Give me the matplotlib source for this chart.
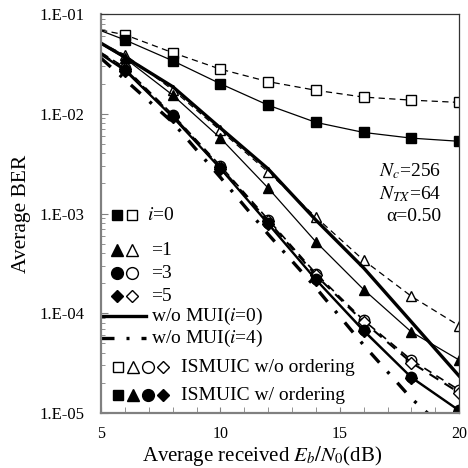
import numpy as np
import matplotlib
matplotlib.use('Agg')
import matplotlib.pyplot as plt
from matplotlib.ticker import FixedLocator, FuncFormatter, LogLocator, NullFormatter

plt.rcParams['font.family'] = ['Liberation Serif', 'DejaVu Serif']
plt.rcParams['mathtext.fontset'] = 'stix'

# Eb/N0 (dB); first point only carries the line to the left edge (no marker)
snr = [5, 6, 8, 10, 12, 14, 16, 18, 20]

# ISMUIC w/o ordering (open markers, dashed)
sq_open = [0.069, 0.062, 0.041, 0.028, 0.021, 0.0172, 0.0147, 0.0137, 0.013]
tri_open = [0.051, 0.039, 0.0174, 0.0068, 0.0026, 9.2e-4, 3.4e-4, 1.48e-4, 7.5e-5]
circ_open = [0.041, 0.029, 0.0098, 0.0030, 8.7e-4, 2.5e-4, 8.5e-5, 3.4e-5, 1.7e-5]
dia_open = [0.040, 0.028, 0.0096, 0.0029, 8.4e-4, 2.4e-4, 8.2e-5, 3.2e-5, 1.6e-5]

# ISMUIC w/ ordering (filled markers, solid)
sq_fill = [0.068, 0.055, 0.034, 0.020, 0.0122, 0.0082, 0.0065, 0.0057, 0.0053]
tri_fill = [0.050, 0.036, 0.0154, 0.0057, 0.0018, 5.2e-4, 1.73e-4, 6.5e-5, 3.4e-5]
circ_fill = [0.040, 0.0275, 0.0094, 0.00285, 8.0e-4, 2.2e-4, 6.8e-5, 2.3e-5, 1.07e-5]
dia_fill = [0.039, 0.027, 0.0092, 0.0028, 7.8e-4, 2.15e-4, 6.6e-5, 2.25e-5, 1.05e-5]

# without MUI references
mui_i0 = [0.051, 0.037, 0.0187, 0.0072, 0.0028, 8.6e-4, 2.85e-4, 8.2e-5, 2.35e-5]
snr_i4 = [5, 6, 8, 10, 12, 14, 16, 18, 19]
mui_i4 = [0.036, 0.022, 0.0082, 0.0023, 6.2e-4, 1.8e-4, 4.8e-5, 1.4e-5, 8.5e-6]

fig = plt.figure(figsize=(4.68, 4.68), dpi=100)
ax = fig.add_axes([0.216, 0.1175, 0.765, 0.8525])

dash = (0, (5, 3.5))
dashdot = (0, (3.9, 3.6, 0.9, 3.6))
mk = slice(1, None)

# open / dashed first so filled markers sit on top
ax.plot(snr, sq_open, ls=dash, lw=0.9, color='k', marker='s', ms=6.5,
        mfc='white', mec='k', mew=1, markevery=mk)
ax.plot(snr, tri_open, ls=dash, lw=0.9, color='k', marker='^', ms=7.5,
        mfc='white', mec='k', mew=1, markevery=mk)
ax.plot(snr, circ_open, ls=dash, lw=1.2, color='k', marker='o', ms=7.5,
        mfc='white', mec='k', mew=1, markevery=mk)
ax.plot(snr, dia_open, ls=dash, lw=1.5, color='k', marker='D', ms=6,
        mfc='white', mec='k', mew=1, markevery=mk)

ax.plot(snr, mui_i0, ls='-', lw=2.4, color='k')
ax.plot(snr_i4, mui_i4, ls=dashdot, lw=2.4, color='k')

ax.plot(snr, sq_fill, ls='-', lw=0.9, color='k', marker='s', ms=6.5,
        mfc='k', mec='k', markevery=mk)
ax.plot(snr, tri_fill, ls='-', lw=0.9, color='k', marker='^', ms=7.5,
        mfc='k', mec='k', markevery=mk)
ax.plot(snr, circ_fill, ls='-', lw=1.2, color='k', marker='o', ms=7.5,
        mfc='k', mec='k', markevery=mk)
ax.plot(snr, dia_fill, ls='-', lw=1.2, color='k', marker='D', ms=6,
        mfc='k', mec='k', markevery=mk)

ax.set_yscale('log')
ax.set_xlim(5, 20)
ax.set_ylim(1e-5, 1e-1)

ax.xaxis.set_major_locator(FixedLocator([5, 10, 15, 20]))
ax.xaxis.set_minor_locator(FixedLocator(np.arange(5, 21, 1)))
ax.yaxis.set_major_locator(LogLocator(base=10, numticks=10))
ax.yaxis.set_minor_locator(LogLocator(base=10, subs=np.arange(2, 10), numticks=20))
ax.yaxis.set_minor_formatter(NullFormatter())
ax.yaxis.set_major_formatter(FuncFormatter(lambda v, p: '1.E%03d' % int(round(np.log10(v)))))

ax.tick_params(which='both', direction='in', top=False, right=False,
               color='#808080', labelsize=12)
ax.tick_params(axis='x', which='both', length=4, pad=9, labelsize=11.5)
ax.tick_params(axis='y', which='major', length=5, pad=12)
ax.tick_params(axis='y', which='minor', length=3)

for s in ['left', 'bottom']:
    ax.spines[s].set_color('#808080')
    ax.spines[s].set_linewidth(1.6)
for s in ['top', 'right']:
    ax.spines[s].set_color('#333333')
    ax.spines[s].set_linewidth(0.9)

ax.set_xlabel('Average received $E_b/N_0$(dB)', fontsize=15, labelpad=0)
ax.xaxis.set_label_coords((262 - 101) / 358, -0.077)
ax.set_ylabel('Average BER', fontsize=15.5, labelpad=6)


# hand-made legend, in axes fractions
def ax_xy(px, py):
    return (px - 101) / 358, (413 - py) / 399


legend_rows = [
    (215, [('s', 'k'), ('s', 'white')], '$i$=0'),
    (250, [('^', 'k'), ('^', 'white')], '=1'),
    (273, [('o', 'k'), ('o', 'white')], '=3'),
    (296, [('D', 'k'), ('D', 'white')], '=5'),
]
sizes = {'s': 7.5, '^': 8.5, 'o': 8.5, 'D': 6.5}
for py, marks, label in legend_rows:
    for px, (m, fc) in zip([117, 132], marks):
        x, y = ax_xy(px, py)
        ax.plot([x], [y], marker=m, ms=sizes[m], mfc=fc, mec='k', mew=1,
                transform=ax.transAxes, clip_on=False, ls='none')
    tx, ty = ax_xy(147 if label.startswith('$') else 151, py)
    ax.text(tx, ty, label, transform=ax.transAxes, fontsize=14, va='center')

for py, style, label in [(316, '-', 'w/o MUI($i$=0)'),
                         (338, dashdot, 'w/o MUI($i$=4)')]:
    x0, y = ax_xy(101, py)
    x1, _ = ax_xy(146, py)
    ax.plot([x0, x1], [y, y], ls=style, lw=2.4, color='k', transform=ax.transAxes)
    tx, _ = ax_xy(151, py)
    ax.text(tx, y, label, transform=ax.transAxes, fontsize=14, va='center')

for py, fc, label in [(367, 'white', 'ISMUIC w/o ordering'),
                      (395, 'k', 'ISMUIC w/ ordering')]:
    for px, m in zip([118, 133, 148, 163], ['s', '^', 'o', 'D']):
        x, y = ax_xy(px, py)
        ax.plot([x], [y], marker=m, ms=sizes[m], mfc=fc, mec='k', mew=1,
                transform=ax.transAxes, ls='none')
    tx, _ = ax_xy(181, py)
    ax.text(tx, y, label, transform=ax.transAxes, fontsize=14, va='center')

# system parameters
for py, txt in [(171, '$N_c$=256'), (194, '$N_{TX}$=64'), (216, 'α=0.50')]:
    x, y = ax_xy(441, py)
    ax.text(x, y, txt, transform=ax.transAxes, fontsize=14, ha='right', va='center')

fig.savefig('out.png', dpi=100)
